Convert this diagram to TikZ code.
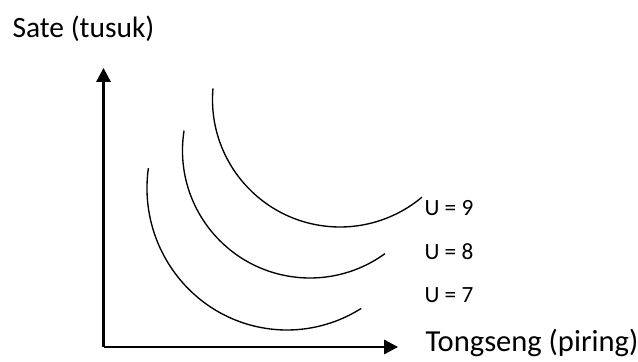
\documentclass[tikz,border=0pt]{standalone}
\usepackage{fontspec}
\setmainfont{Carlito}
\usepackage{tikz}
\usetikzlibrary{arrows.meta}

\begin{document}
\begin{tikzpicture}[
    x=0.13cm, y=0.13cm,
    axis/.style={line width=0.75pt, -{Triangle[length=1.8mm,width=1.85mm]}},
    icurve/.style={line width=0.5pt},
    lbl/.style={font=\fontsize{10.9}{13}\selectfont, anchor=west, inner sep=0pt},
    ulbl/.style={font=\fontsize{8.6}{10}\selectfont, anchor=west, inner sep=0pt}
  ]
  \useasboundingbox (0,0) rectangle (63.8,36.2);
  \coordinate (O) at (10.35,1.5);
  \coordinate (ytip) at (10.35,29.4);
  \coordinate (xtip) at (39.8,1.5);
  \draw[axis] (O) -- (ytip);
  \draw[axis] (O) -- (xtip);
  \node[lbl] (ylab) at (1.2,33.3) {Sate (tusuk)};
  \node[lbl, font=\fontsize{11.3}{13}\selectfont] (xlab) at (42.5,1.9) {Tongseng (piring)};
  % indifference curves
  \draw[icurve] (34,26.25) ++(175:12.75) arc[start angle=175, end angle=310, radius=12.75];
  \draw[icurve] (31,21.15) ++(171:12.75) arc[start angle=171, end angle=306, radius=12.75];
  \draw[icurve] (28.7,17.4) ++(172:14 and 14.2) arc[start angle=172, end angle=302, x radius=14, y radius=14.2];
  \node[ulbl] (u9) at (42.4,15.4) {U = 9};
  \node[ulbl] (u8) at (42.4,11.0) {U = 8};
  \node[ulbl] (u7) at (42.4,6.7) {U = 7};
\end{tikzpicture}
\end{document}
